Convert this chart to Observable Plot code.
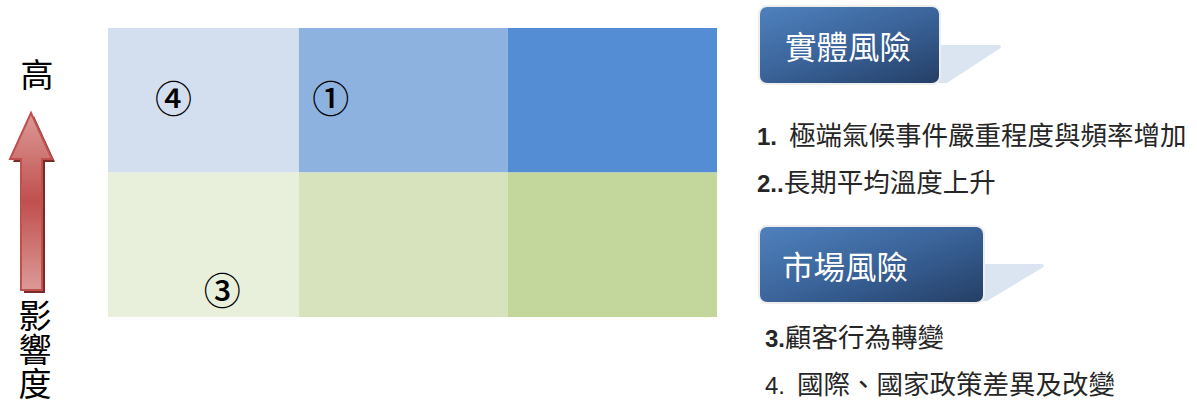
<!DOCTYPE html>
<html>
<head>
<meta charset="utf-8">
<script src="https://cdn.jsdelivr.net/npm/d3@7"></script>
<script src="https://cdn.jsdelivr.net/npm/@observablehq/plot@0.6"></script>
<style>
  html, body { margin: 0; padding: 0; background: #fff; }
  #wrap { position: relative; width: 1197px; height: 406px; overflow: hidden; font-family: "Noto Sans CJK TC", "Noto Sans", sans-serif; }
  #wrap > svg.plot { position: absolute; left: 0; top: 0; }
  .vlab { position: absolute; font-size: 33px; line-height: 40px; color: #000; width: 40px; text-align: center; }
  .vert { position: absolute; font-size: 33px; line-height: 40px; color: #000; writing-mode: vertical-rl; text-orientation: upright; letter-spacing: 1px; }
  .box { position: absolute; box-sizing: border-box; border-radius: 7px; background: linear-gradient(160deg, #4F81BD 0%, #3A6399 50%, #243F66 100%); box-shadow: 0 0 0 2px #EEEEEE; color: #fff; font-size: 31.5px; display: flex; align-items: center; }
  .item { position: absolute; font-size: 26.5px; line-height: 27px; color: #262626; white-space: pre; }
  .item b { font-family: "Liberation Sans", Arial, sans-serif; font-weight: bold; font-size: 24px; }
  .item .n { font-family: "Liberation Sans", Arial, sans-serif; font-size: 24px; }
</style>
</head>
<body>
<div id="wrap"></div>
<script>
// ---- data ----
const impactRows = ["高", "低"];              // y rows, top = high impact
const rowEdges = [2, 1, 0];                     // y boundaries (top row 1..2, bottom row 0..1)
const likelihoodCols = ["低", "中", "高"];       // x columns
const colEdges = [0, 0.94, 1.97, 3];             // column boundaries
const markerLabels = ["④", "①", "③"];
const markerX = [0.32, 1.095, 0.56];
const markerY = [1.5, 1.5, 0.17];
const axisTop = "高";
const axisLabel = "影響度";
const physicalTitle = "實體風險";
const physicalItems = [["1.", "  極端氣候事件嚴重程度與頻率增加", true], ["2..", "長期平均溫度上升", true]];
const marketTitle = "市場風險";
const marketItems = [["3.", "顧客行為轉變", true], ["4.", "  國際、國家政策差異及改變", false]];

// ---- build cells ----
const cells = [];
impactRows.forEach((r, i) => {
  likelihoodCols.forEach((c, j) => {
    cells.push({key: r + c, x1: colEdges[j], x2: colEdges[j + 1], y1: rowEdges[i + 1], y2: rowEdges[i]});
  });
});
const markers = markerLabels.map((t, i) => ({t, x: markerX[i], y: markerY[i]}));

const chart = Plot.plot({
  width: 1197,
  height: 406,
  marginLeft: 108,
  marginRight: 480,
  marginTop: 28,
  marginBottom: 89,
  x: {domain: [0, 3], axis: null},
  y: {domain: [0, 2], axis: null},
  color: {
    type: "ordinal",
    domain: cells.map(d => d.key),
    range: ["#D3DFEF", "#8EB2E0", "#548DD4", "#E8F0DC", "#D7E3BC", "#C3D69B"]
  },
  style: {background: "transparent"},
  marks: [
    Plot.rect(cells, {x1: "x1", x2: "x2", y1: "y1", y2: "y2", fill: "key", inset: 0}),
    Plot.text(markers, {x: "x", y: "y", text: "t", fontSize: 37, fontWeight: 500, fill: "#000", fontFamily: "Noto Sans CJK TC"})
  ]
});
chart.classList.add("plot");
const wrap = document.getElementById("wrap");
wrap.appendChild(chart);

// ---- left axis label with arrow ----
const hi = document.createElement("div");
hi.className = "vlab"; hi.style.left = "17px"; hi.style.top = "53px"; hi.textContent = axisTop;
wrap.appendChild(hi);
const lo = document.createElement("div");
lo.className = "vert"; lo.style.left = "15px"; lo.style.top = "299px"; lo.textContent = axisLabel;
wrap.appendChild(lo);

const svgNS = "http://www.w3.org/2000/svg";
const arrow = document.createElementNS(svgNS, "svg");
arrow.setAttribute("width", "70"); arrow.setAttribute("height", "200");
arrow.style.position = "absolute"; arrow.style.left = "0px"; arrow.style.top = "100px";
arrow.innerHTML = `
  <defs>
    <linearGradient id="ag" x1="0" y1="0" x2="0" y2="1">
      <stop offset="0" stop-color="#DC9A98"/>
      <stop offset="0.5" stop-color="#C0504D"/>
      <stop offset="1" stop-color="#DC9A98"/>
    </linearGradient>
  </defs>
  <polygon points="34,16 55,62 45,62 45,193 24,193 24,62 13,62" fill="#7A2A28"/>
  <polygon points="31,13 52,59 42,59 42,190 21,190 21,59 10,59" fill="url(#ag)" stroke="#C0504D" stroke-width="2" stroke-linejoin="miter"/>`;
wrap.appendChild(arrow);

// ---- callout boxes ----
const tails = document.createElementNS(svgNS, "svg");
tails.setAttribute("width", "1197"); tails.setAttribute("height", "406");
tails.style.position = "absolute"; tails.style.left = "0"; tails.style.top = "0";
tails.innerHTML = `
  <path d="M930,45 L999,45 Q1003,46 999,49 L947,83 L930,83 Z" fill="#DBE5F1"/>
  <path d="M970,264 L1042,264 Q1046,265 1042,268 L987,301 L970,301 Z" fill="#DBE5F1"/>`;
wrap.appendChild(tails);

function box(title, left, top, w, h, pad) {
  const b = document.createElement("div");
  b.className = "box";
  Object.assign(b.style, {left: left + "px", top: top + "px", width: w + "px", height: h + "px", paddingLeft: pad + "px"});
  b.textContent = title;
  wrap.appendChild(b);
}
box(physicalTitle, 760, 7, 179, 76, 25);
box(marketTitle, 760, 227, 223, 75, 22);

function items(list, left, tops) {
  list.forEach((it, i) => {
    const d = document.createElement("div");
    d.className = "item";
    d.style.left = left[i] + "px"; d.style.top = tops[i] + "px";
    const num = it[2] ? `<b>${it[0]}</b>` : `<span class="n">${it[0]}</span>`;
    d.innerHTML = num + it[1];
    wrap.appendChild(d);
  });
}
items(physicalItems, [757, 757], [120, 167]);
items(marketItems, [765, 765], [322, 369]);
</script>
</body>
</html>
